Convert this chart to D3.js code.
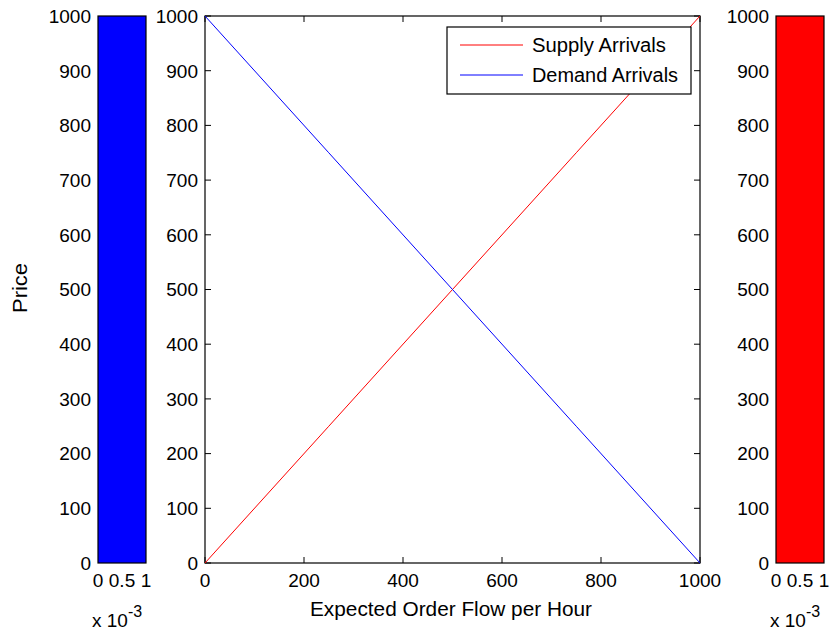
<!DOCTYPE html>
<html>
<head>
<meta charset="utf-8">
<script src="https://cdn.jsdelivr.net/npm/d3@7"></script>
<style>
  body { margin: 0; background: #fff; }
  svg text { font-family: "Liberation Sans", Arial, sans-serif; fill: #000; }
</style>
</head>
<body>
<svg id="chart" width="830" height="637"></svg>
<script>
// Price grid and expected hourly order flow for each side of the market
const prices = [0, 250, 500, 750, 1000];
const supplyFlow = [0, 250, 500, 750, 1000];
const demandFlow = [1000, 750, 500, 250, 0];
const seriesNames = ["Supply Arrivals", "Demand Arrivals"];
const seriesColors = ["#ff0000", "#0000ff"];

// Side density panels (values in units of 10^-3)
const densityTicks = [0, 0.5, 1];
const demandDensity = 1;
const supplyDensity = 1;

const priceTicks = [0, 100, 200, 300, 400, 500, 600, 700, 800, 900, 1000];
const flowTicks = [0, 200, 400, 600, 800, 1000];

const svg = d3.select("#chart");
const plotTop = 16, plotBottom = 563;
const fontSize = 19;

const y = d3.scaleLinear().domain([0, 1000]).range([plotBottom, plotTop]);

function priceAxis(g, x0) {
  g.selectAll("text.ptick").data(priceTicks).join("text")
    .attr("class", "ptick")
    .attr("x", x0 - 7)
    .attr("y", d => y(d))
    .attr("dy", "0.36em")
    .attr("text-anchor", "end")
    .style("font-size", fontSize + "px")
    .text(d => d);
}

// Density panel: a filled bar spanning the full price range
function densityPanel(x0, x1, value, color) {
  const x = d3.scaleLinear().domain([0, 1]).range([x0, x1]);
  const g = svg.append("g");
  priceAxis(g, x0);
  g.append("rect")
    .attr("x", x(0)).attr("y", y(1000))
    .attr("width", x(value) - x(0)).attr("height", y(0) - y(1000))
    .attr("fill", color).attr("stroke", "#000").attr("stroke-width", 1.2);
  g.selectAll("text.dtick").data(densityTicks).join("text")
    .attr("class", "dtick")
    .attr("x", d => x(d))
    .attr("y", plotBottom + 24)
    .attr("text-anchor", "middle")
    .style("font-size", fontSize + "px")
    .text(d => d);
  const lab = g.append("text")
    .attr("x", x0 - 6).attr("y", plotBottom + 64)
    .style("font-size", fontSize + "px");
  lab.append("tspan").text("x 10");
  lab.append("tspan").attr("dy", -10).style("font-size", "16px").text("-3");
}

densityPanel(98, 146, demandDensity, "#0000ff");
densityPanel(776, 824, supplyDensity, "#ff0000");

// Main panel
const mx0 = 205, mx1 = 700;
const x = d3.scaleLinear().domain([0, 1000]).range([mx0, mx1]);
const main = svg.append("g");
priceAxis(main, mx0);

main.append("rect")
  .attr("x", mx0).attr("y", plotTop).attr("width", mx1 - mx0).attr("height", plotBottom - plotTop)
  .attr("fill", "none").attr("stroke", "#000").attr("stroke-width", 1.2);

const tl = 6;
priceTicks.forEach(d => {
  main.append("line").attr("x1", mx0).attr("x2", mx0 + tl).attr("y1", y(d)).attr("y2", y(d)).attr("stroke", "#000");
  main.append("line").attr("x1", mx1).attr("x2", mx1 - tl).attr("y1", y(d)).attr("y2", y(d)).attr("stroke", "#000");
});
flowTicks.forEach(d => {
  main.append("line").attr("x1", x(d)).attr("x2", x(d)).attr("y1", plotBottom).attr("y2", plotBottom - tl).attr("stroke", "#000");
  main.append("line").attr("x1", x(d)).attr("x2", x(d)).attr("y1", plotTop).attr("y2", plotTop + tl).attr("stroke", "#000");
});

main.selectAll("text.ftick").data(flowTicks).join("text")
  .attr("class", "ftick")
  .attr("x", d => x(d)).attr("y", plotBottom + 24)
  .attr("text-anchor", "middle")
  .style("font-size", fontSize + "px")
  .text(d => d);

const line = d3.line().x(d => x(d[0])).y(d => y(d[1]));
[supplyFlow, demandFlow].forEach((flow, i) => {
  main.append("path")
    .attr("d", line(flow.map((f, k) => [f, prices[k]])))
    .attr("fill", "none").attr("stroke", seriesColors[i]).attr("stroke-width", 1);
});

// Legend
const legendWidths = [134, 146];
const lg = main.append("g");
lg.append("rect").attr("x", 447).attr("y", 27).attr("width", 244).attr("height", 67)
  .attr("fill", "#fff").attr("stroke", "#000").attr("stroke-width", 1.2);
seriesNames.forEach((n, i) => {
  const ly = 45 + i * 30;
  lg.append("line").attr("x1", 460).attr("x2", 523).attr("y1", ly).attr("y2", ly)
    .attr("stroke", seriesColors[i]);
  lg.append("text").attr("x", 532).attr("y", ly).attr("dy", "0.36em")
    .attr("textLength", legendWidths[i]).attr("lengthAdjust", "spacingAndGlyphs")
    .style("font-size", "20px").text(n);
});

svg.append("text").attr("x", 451).attr("y", 616).attr("text-anchor", "middle")
  .attr("textLength", 282).attr("lengthAdjust", "spacingAndGlyphs")
  .style("font-size", "20px").text("Expected Order Flow per Hour");
svg.append("text").attr("transform", "translate(27,288) rotate(-90)").attr("text-anchor", "middle")
  .attr("textLength", 50).attr("lengthAdjust", "spacingAndGlyphs")
  .style("font-size", "20px").text("Price");
</script>
</body>
</html>
